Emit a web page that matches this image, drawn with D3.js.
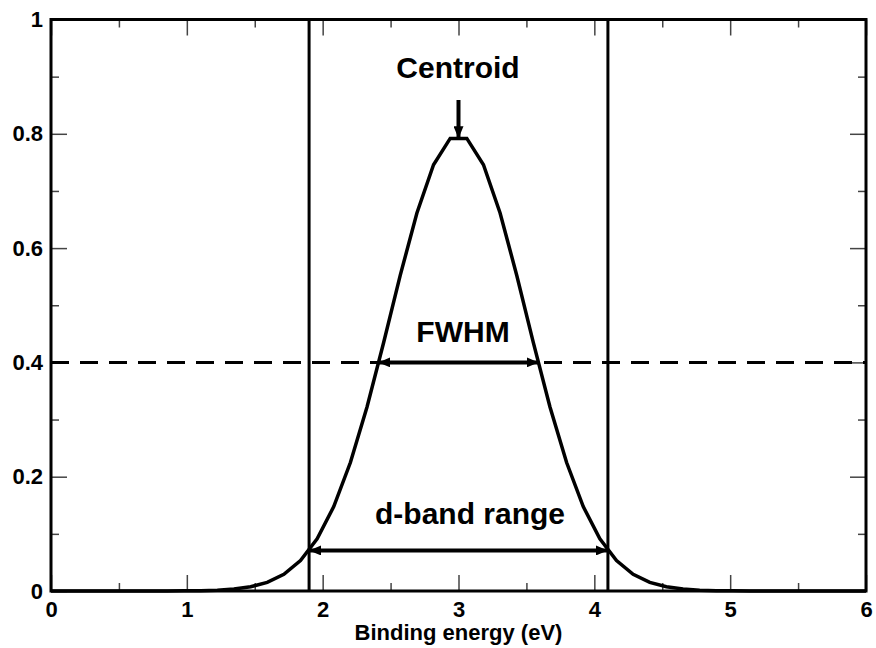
<!DOCTYPE html>
<html><head><meta charset="utf-8">
<script src="https://cdn.jsdelivr.net/npm/d3@7/dist/d3.min.js"></script>
<style>body{margin:0;background:#fff;}svg{display:block;font-family:"Liberation Sans",Arial,Helvetica,sans-serif;font-weight:bold;}</style>
</head><body><svg id="c" width="876" height="648"></svg>
<script>
// Data
const energy = [0,0.1224,0.2449,0.3673,0.4898,0.6122,0.7347,0.8571,0.9796,1.102,1.2245,1.3469,1.4694,1.5918,1.7143,1.8367,1.9592,2.0816,2.2041,2.3265,2.449,2.5714,2.6939,2.8163,2.9388,3.0612,3.1837,3.3061,3.4286,3.551,3.6735,3.7959,3.9184,4.0408,4.1633,4.2857,4.4082,4.5306,4.6531,4.7755,4.898,5.0204,5.1429,5.2653,5.3878,5.5102,5.6327,5.7551,5.8776,6];
const intensity = [0,0,0,0.000001,0.000003,0.000009,0.000028,0.000082,0.000227,0.000593,0.001458,0.003376,0.007363,0.015121,0.029249,0.053282,0.091411,0.147698,0.224749,0.322094,0.434727,0.552592,0.661522,0.745827,0.79193,0.79193,0.745827,0.661522,0.552592,0.434727,0.322094,0.224749,0.147698,0.091411,0.053282,0.029249,0.015121,0.007363,0.003376,0.001458,0.000593,0.000227,0.000082,0.000028,0.000009,0.000003,0.000001,0,0,0];
const xMajor = [0,1,2,3,4,5,6];
const xMinor = [0.5,1.5,2.5,3.5,4.5,5.5];
const yMajor = [0,0.2,0.4,0.6,0.8,1];
const yMinor = [0.1,0.3,0.5,0.7,0.9];
const bandEdges = [1.9,4.1];
const halfMax = 0.4;
const fwhmEnds = [2.41,3.59];
const bandLevel = 0.0709;
const centroid = 3.0;
const peak = 0.792;
const labels = {centroid:"Centroid", fwhm:"FWHM", band:"d-band range", xTitle:"Binding energy (eV)"};

const svg = d3.select("#c");
const L=51, R=866, T=19.5, B=591;
const x = d3.scaleLinear().domain([0,6]).range([L,R]);
const y = d3.scaleLinear().domain([0,1]).range([B,T]);

const defs = svg.append("defs");
defs.append("marker").attr("id","ah").attr("viewBox","0 -5 12 10").attr("refX",12).attr("refY",0)
  .attr("markerUnits","userSpaceOnUse").attr("markerWidth",12).attr("markerHeight",10).attr("orient","auto-start-reverse")
  .append("path").attr("d","M0,-5L12,0L0,5Z").attr("fill","#000");

function styleAxis(g, fs){
  g.select(".domain").remove();
  g.selectAll(".tick line").attr("stroke","#444").attr("stroke-width",1.5);
  g.selectAll(".tick text").attr("font-size",fs).attr("font-weight","bold").attr("fill","#000").attr("font-family","Liberation Sans, Arial, sans-serif");
}
const FS = 22;
// bottom
svg.append("g").attr("transform",`translate(0,${B})`).call(d3.axisBottom(x).tickValues(xMajor).tickSize(-16).tickPadding(10).tickFormat(d=>String(d))).call(g=>styleAxis(g,FS));
svg.append("g").attr("transform",`translate(0,${B})`).call(d3.axisBottom(x).tickValues(xMinor).tickSize(-8).tickFormat("")).call(g=>styleAxis(g,FS));
// top
svg.append("g").attr("transform",`translate(0,${T})`).call(d3.axisTop(x).tickValues(xMajor).tickSize(-16).tickFormat("")).call(g=>styleAxis(g,FS));
svg.append("g").attr("transform",`translate(0,${T})`).call(d3.axisTop(x).tickValues(xMinor).tickSize(-8).tickFormat("")).call(g=>styleAxis(g,FS));
// left
svg.append("g").attr("transform",`translate(${L},0)`).call(d3.axisLeft(y).tickValues(yMajor).tickSize(-16).tickPadding(8).tickFormat(d=>String(d))).call(g=>styleAxis(g,FS));
svg.append("g").attr("transform",`translate(${L},0)`).call(d3.axisLeft(y).tickValues(yMinor).tickSize(-8).tickFormat("")).call(g=>styleAxis(g,FS));
// right
svg.append("g").attr("transform",`translate(${R},0)`).call(d3.axisRight(y).tickValues(yMajor).tickSize(-16).tickFormat("")).call(g=>styleAxis(g,FS));
svg.append("g").attr("transform",`translate(${R},0)`).call(d3.axisRight(y).tickValues(yMinor).tickSize(-8).tickFormat("")).call(g=>styleAxis(g,FS));

// half max dashed line
svg.append("line").attr("x1",L).attr("x2",R).attr("y1",y(halfMax)).attr("y2",y(halfMax))
  .attr("stroke","#000").attr("stroke-width",3).attr("stroke-dasharray","18,11");

// band edge verticals
svg.selectAll(".edge").data(bandEdges).enter().append("line")
  .attr("x1",d=>x(d)).attr("x2",d=>x(d)).attr("y1",T).attr("y2",B).attr("stroke","#000").attr("stroke-width",3);

// curve
const pts = energy.map((e,i)=>[e,intensity[i]]);
svg.append("path").datum(pts).attr("d",d3.line().x(d=>x(d[0])).y(d=>y(d[1])))
  .attr("fill","none").attr("stroke","#000").attr("stroke-width",3.5).attr("stroke-linejoin","miter");

// frame
svg.append("rect").attr("x",L).attr("y",T).attr("width",R-L).attr("height",B-T).attr("fill","none").attr("stroke","#000").attr("stroke-width",3);

// arrows
function arrow(x1,y1,x2,y2,both){
  const l = svg.append("line").attr("x1",x1).attr("y1",y1).attr("x2",x2).attr("y2",y2)
    .attr("stroke","#000").attr("stroke-width",4).attr("marker-end","url(#ah)");
  if(both) l.attr("marker-start","url(#ah)");
}
arrow(x(fwhmEnds[0]),y(halfMax),x(fwhmEnds[1]),y(halfMax),true);
arrow(x(bandEdges[0]),y(bandLevel),x(bandEdges[1]),y(bandLevel),true);
arrow(x(centroid),100,x(centroid),y(peak),false);

// annotation text
const ann = svg.append("g").attr("font-size",30).attr("font-weight","bold").attr("text-anchor","middle").attr("fill","#000");
ann.append("text").attr("x",458).attr("y",78).text(labels.centroid);
ann.append("text").attr("x",463).attr("y",342).text(labels.fwhm);
ann.append("text").attr("x",470).attr("y",524).text(labels.band);

svg.append("text").attr("x",(L+R)/2).attr("y",640).attr("text-anchor","middle").attr("font-size",22).attr("font-weight","bold").text(labels.xTitle);
</script></body></html>
